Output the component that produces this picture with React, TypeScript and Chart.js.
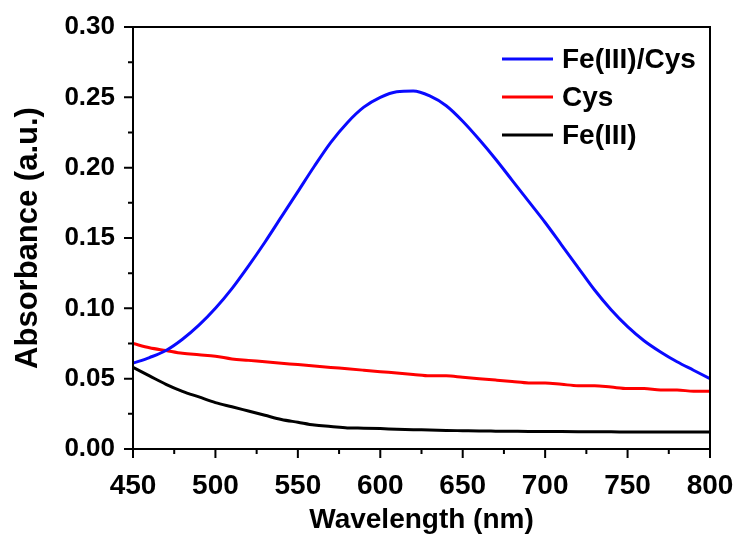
import React, { useEffect, useRef } from "react";
import { Chart, registerables } from "chart.js";

Chart.register(...registerables);

const wavelengths = [450, 460, 470, 480, 490, 500, 510, 520, 530, 540, 550, 560, 570, 580, 590, 600, 610, 620, 630, 640, 650, 660, 670, 680, 690, 700, 710, 720, 730, 740, 750, 760, 770, 780, 790, 800];

const feCys = [0.061, 0.065, 0.070, 0.078, 0.088, 0.100, 0.114, 0.130, 0.147, 0.165, 0.183, 0.201, 0.218, 0.232, 0.243, 0.250, 0.254, 0.2545, 0.251, 0.244, 0.233, 0.220, 0.206, 0.191, 0.176, 0.161, 0.145, 0.129, 0.113, 0.099, 0.087, 0.077, 0.069, 0.062, 0.056, 0.050];

const cys = [0.075, 0.072, 0.070, 0.068, 0.067, 0.066, 0.064, 0.063, 0.062, 0.061, 0.060, 0.059, 0.058, 0.057, 0.056, 0.055, 0.054, 0.053, 0.052, 0.052, 0.051, 0.050, 0.049, 0.048, 0.047, 0.047, 0.046, 0.045, 0.045, 0.044, 0.043, 0.043, 0.042, 0.042, 0.041, 0.041];

const fe = [0.058, 0.052, 0.046, 0.041, 0.037, 0.033, 0.030, 0.027, 0.024, 0.021, 0.019, 0.017, 0.016, 0.015, 0.0148, 0.0145, 0.014, 0.0137, 0.0135, 0.0132, 0.013, 0.0128, 0.0127, 0.0126, 0.0125, 0.0125, 0.0124, 0.0123, 0.0122, 0.0122, 0.0121, 0.0121, 0.012, 0.012, 0.012, 0.012];

const seriesLabels = ["Fe(III)/Cys", "Cys", "Fe(III)"];
const seriesColors = ["#0a0aff", "#ff0000", "#000000"];
const seriesValues = [feCys, cys, fe];

const xTicks = [450, 500, 550, 600, 650, 700, 750, 800];
const yTicks = [0, 0.05, 0.1, 0.15, 0.2, 0.25, 0.3];

const FONT = "'Liberation Sans', Arial, sans-serif";

const framePlugin = {
  id: "frameTicks",
  afterDraw(chart: any) {
    const { ctx, chartArea } = chart;
    const xs = chart.scales.x;
    const ys = chart.scales.y;
    ctx.save();
    ctx.strokeStyle = "#000";
    ctx.lineWidth = 2;
    ctx.strokeRect(chartArea.left, chartArea.top, chartArea.right - chartArea.left, chartArea.bottom - chartArea.top);
    ctx.beginPath();
    for (let i = 0; i < xTicks.length; i++) {
      const px = xs.getPixelForValue(xTicks[i]);
      ctx.moveTo(px, chartArea.bottom);
      ctx.lineTo(px, chartArea.bottom + 9);
      if (i < xTicks.length - 1) {
        const pm = xs.getPixelForValue((xTicks[i] + xTicks[i + 1]) / 2);
        ctx.moveTo(pm, chartArea.bottom);
        ctx.lineTo(pm, chartArea.bottom + 5);
      }
    }
    for (let i = 0; i < yTicks.length; i++) {
      const py = ys.getPixelForValue(yTicks[i]);
      ctx.moveTo(chartArea.left, py);
      ctx.lineTo(chartArea.left - 9, py);
      if (i < yTicks.length - 1) {
        const pm = ys.getPixelForValue((yTicks[i] + yTicks[i + 1]) / 2);
        ctx.moveTo(chartArea.left, pm);
        ctx.lineTo(chartArea.left - 5, pm);
      }
    }
    ctx.stroke();

    // legend
    const ds = chart.data.datasets;
    ctx.font = `bold 28px ${FONT}`;
    ctx.textBaseline = "middle";
    ctx.textAlign = "left";
    for (let i = 0; i < ds.length; i++) {
      const y = 59 + i * 38;
      ctx.strokeStyle = ds[i].borderColor;
      ctx.lineWidth = 3;
      ctx.beginPath();
      ctx.moveTo(502, y);
      ctx.lineTo(553, y);
      ctx.stroke();
      ctx.fillStyle = "#000";
      ctx.fillText(ds[i].label, 562, y + 1);
    }
    ctx.restore();
  },
};

export default function App() {
  const ref = useRef<HTMLCanvasElement>(null);
  useEffect(() => {
    if (!ref.current) return;
    const chart = new Chart(ref.current, {
      type: "line",
      data: {
        datasets: seriesLabels.map((label, i) => ({
          label,
          data: wavelengths.map((w, j) => ({ x: w, y: seriesValues[i][j] })),
          borderColor: seriesColors[i],
          backgroundColor: seriesColors[i],
          borderWidth: 3,
          pointRadius: 0,
          cubicInterpolationMode: "monotone" as const,
        })),
      },
      options: {
        animation: false,
        responsive: false,
        maintainAspectRatio: false,
        layout: { padding: { top: 27, right: 27, left: 0, bottom: 0 } },
        plugins: { legend: { display: false }, tooltip: { enabled: false } },
        scales: {
          x: {
            type: "linear",
            min: 450,
            max: 800,
            afterFit: (s: any) => { s.height = 90; s.paddingLeft = 0; s.paddingRight = 0; },
            afterBuildTicks: (s: any) => { s.ticks = xTicks.map((v) => ({ value: v })); },
            grid: { display: false },
            border: { display: false },
            ticks: {
              color: "#000",
              padding: 12,
              maxRotation: 0,
              font: { family: FONT, size: 28, weight: "bold" },
              callback: (v: any) => String(v),
            },
            title: {
              display: true,
              text: "Wavelength (nm)",
              color: "#000",
              font: { family: FONT, size: 28, weight: "bold" },
              padding: { top: 0, bottom: 2 },
            },
          },
          y: {
            type: "linear",
            min: 0,
            max: 0.3,
            afterFit: (s: any) => { s.width = 133; s.paddingTop = 0; s.paddingBottom = 0; },
            afterBuildTicks: (s: any) => { s.ticks = yTicks.map((v) => ({ value: v })); },
            grid: { display: false },
            border: { display: false },
            ticks: {
              color: "#000",
              padding: 10,
              font: { family: FONT, size: 26, weight: "bold" },
              callback: (v: any) => Number(v).toFixed(2),
            },
            title: {
              display: true,
              text: "Absorbance (a.u.)",
              color: "#000",
              font: { family: FONT, size: 31, weight: "bold" },
              padding: { top: 10, bottom: 0 },
            },
          },
        },
      },
      plugins: [framePlugin],
    });
    return () => chart.destroy();
  }, []);
  return (
    <div style={{ position: "fixed", left: 0, top: 0, width: 737, height: 539, background: "#fff" }}>
      <canvas ref={ref} width={737} height={539} style={{ width: 737, height: 539 }} />
    </div>
  );
}
